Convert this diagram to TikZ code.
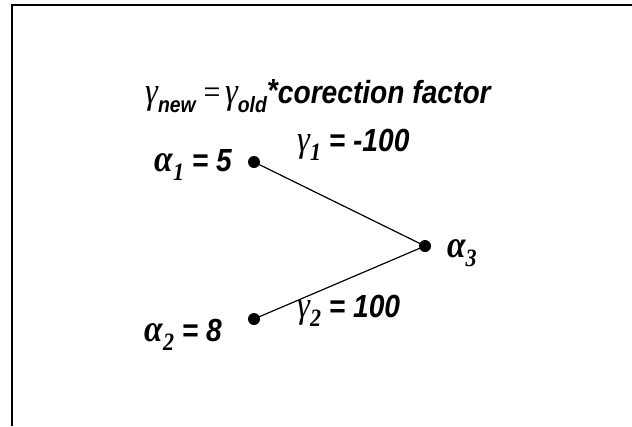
\documentclass[tikz,border=0pt]{standalone}
\usepackage{fontspec}
\setmainfont{Liberation Sans}
\newfontfamily\grk{Liberation Serif}
\begin{document}
\begin{tikzpicture}[x=1pt,y=-1pt,
  dot/.style={circle,fill=black,inner sep=0pt,minimum size=12pt},
  lbl/.style={inner sep=0pt,font=\fontsize{32}{35}\selectfont\bfseries\itshape},
  edge/.style={line width=1.2pt}]
\useasboundingbox (0,0) rectangle (632,426);
\fill[white] (0,0) rectangle (632,426);
\draw[line width=1.6pt] (12,426) -- (12,5) -- (632,5);
\newcommand{\cond}[1]{\scalebox{0.88}[1]{#1}}
\newcommand{\gsym}{{\fontsize{37}{37}\selectfont\grk\itshape\mdseries γ}}
\newcommand{\asym}{{\fontsize{38}{38}\selectfont\grk\itshape\bfseries α}}
\newcommand{\sub}[1]{\raisebox{-0.3em}{\fontsize{22}{22}\selectfont #1}}
\newcommand{\gsub}[1]{\raisebox{-0.3em}{\fontsize{25}{25}\selectfont\grk\itshape #1}}
\node[lbl,anchor=base west] (title) at (145,103)
  {\cond{\gsym\sub{new} {\fontsize{34}{34}\selectfont\grk\mdseries\upshape =}\,\gsym\sub{old}\raisebox{0.05em}{*}corection factor}};
\node[dot] (a1) at (254,162) {};
\node[dot] (a3) at (425,246) {};
\node[dot] (a2) at (254,319) {};
\draw[edge] (a1.center) -- (a3.center);
\draw[edge] (a2.center) -- (a3.center);
\node[lbl,anchor=base east] (la1) at (232,171) {\cond{\asym\gsub{1} = 5}};
\node[lbl,anchor=base west] (la3) at (447,257) {\cond{\asym\gsub{3}}};
\node[lbl,anchor=base east] (la2) at (222,341) {\cond{\asym\gsub{2} = 8}};
\node[lbl,anchor=base west] (lg1) at (297,151) {\cond{\gsym\gsub{1} = -100}};
\node[lbl,anchor=base west] (lg2) at (297,317) {\cond{\gsym\gsub{2} = 100}};
\end{tikzpicture}
\end{document}
